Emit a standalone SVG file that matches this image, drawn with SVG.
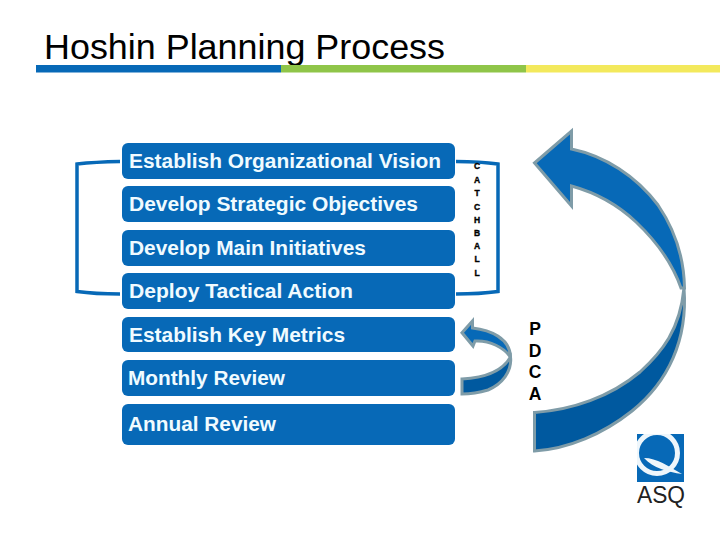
<svg xmlns="http://www.w3.org/2000/svg" width="720" height="540" viewBox="0 0 720 540">
<defs><clipPath id="sq"><rect x="637" y="434" width="47" height="48"/></clipPath></defs>
<style>
.box{fill:#0769b7}
.lbl{font-family:"Liberation Sans",Arial,sans-serif;font-weight:700;font-size:20px;fill:#f0fbff}
.side{font-family:"Liberation Sans",Arial,sans-serif;font-weight:700;fill:#000;text-anchor:middle}
.cb{font-size:8.500px;stroke:#000;stroke-width:.35}
.pd{font-size:17.500px}
.br{fill:none;stroke:#0769b7;stroke-width:3.500}
.ar{stroke:#7f9ca8;stroke-width:3;stroke-linejoin:miter}
</style>
<rect width="720" height="540" fill="#fff"/>
<g id="title">
<text x="44" y="59" font-family="'Liberation Sans',Arial,sans-serif" font-size="35" fill="#000" textLength="401" lengthAdjust="spacingAndGlyphs">Hoshin Planning Process</text>
<rect x="36" y="65" width="245" height="7.500" fill="#0769b7"/>
<rect x="281" y="65" width="245" height="7.500" fill="#8fc549"/>
<rect x="526" y="65" width="194" height="7.500" fill="#f3e95c"/>
</g>
<g id="connectors">
<path class="br" d="M120 161.500 Q95 162 77 164 V291.500 Q95 294 120 294"/>
<path class="br" d="M456 161.500 Q480 161.500 498 164 V291.500 Q480 294 456 294"/>
</g>
<g id="n1"><rect class="box" x="122" y="143" width="333" height="36" rx="6"/><text class="lbl" x="129" y="168" textLength="312" lengthAdjust="spacingAndGlyphs">Establish Organizational Vision</text></g>
<g id="n2"><rect class="box" x="122" y="186" width="333" height="36" rx="6"/><text class="lbl" x="129" y="211" textLength="289" lengthAdjust="spacingAndGlyphs">Develop Strategic Objectives</text></g>
<g id="n3"><rect class="box" x="122" y="230" width="333" height="36" rx="6"/><text class="lbl" x="129" y="255" textLength="237" lengthAdjust="spacingAndGlyphs">Develop Main Initiatives</text></g>
<g id="n4"><rect class="box" x="122" y="273" width="333" height="36" rx="6"/><text class="lbl" x="129" y="298" textLength="224" lengthAdjust="spacingAndGlyphs">Deploy Tactical Action</text></g>
<g id="n5"><rect class="box" x="122" y="317" width="333" height="35" rx="6"/><text class="lbl" x="129" y="342" textLength="216" lengthAdjust="spacingAndGlyphs">Establish Key Metrics</text></g>
<g id="n6"><rect class="box" x="122" y="360" width="333" height="36" rx="6"/><text class="lbl" x="128" y="385" textLength="157" lengthAdjust="spacingAndGlyphs">Monthly Review</text></g>
<g id="n7"><rect class="box" x="122" y="404" width="333" height="41" rx="6"/><text class="lbl" x="128" y="431" textLength="148" lengthAdjust="spacingAndGlyphs">Annual Review</text></g>
<g id="catchball">
<text class="side cb" x="477" y="169">C</text>
<text class="side cb" x="477" y="183">A</text>
<text class="side cb" x="477" y="196">T</text>
<text class="side cb" x="477" y="210">C</text>
<text class="side cb" x="477" y="223">H</text>
<text class="side cb" x="477" y="236">B</text>
<text class="side cb" x="477" y="249">A</text>
<text class="side cb" x="477" y="262">L</text>
<text class="side cb" x="477" y="276">L</text>
</g>
<g id="pdca">
<text class="side pd" x="535" y="335">P</text>
<text class="side pd" x="535" y="357">D</text>
<text class="side pd" x="535" y="378">C</text>
<text class="side pd" x="535" y="400">A</text>
</g>
<g id="big-arrow">
<path class="ar" fill="#00599f" d="M684 288 C688 340 668 382 632 411 C603 434 568 449 534.500 451 V412.500 C572 410 610 397 640 372 C662 352 680 330 684 288Z"/>
<path class="ar" fill="#0769b7" d="M534.500 163 L571.500 131 V149 C605 156 636 176 658 205 C675 230 684 258 684.500 288 L681 288 C672 262 655 240 636 222 C618 205 597 193 571.500 186 V206Z"/>
</g>
<g id="small-arrow">
<path class="ar" fill="#00599f" d="M510.500 357 C512 372 502 384 488 390 C478 393 470 394 462 394 V379 C482 378 502 372 510.500 357Z"/>
<path class="ar" fill="#0769b7" d="M462 332.700 L472.500 321 V328 C490 330 510 338 510.500 357 C504 348 490 340 475 341 L473 346Z"/>
</g>
<g id="logo">
<rect x="637" y="434" width="47" height="48" fill="#0769b7"/>
<circle cx="657" cy="453" r="20.500" fill="none" stroke="#eef6fb" stroke-width="5" clip-path="url(#sq)"/>
<path d="M644 458 C657 458 668 466 682 474 C668 472 653 468 644 458Z" fill="#eef6fb"/>
<text x="637" y="503" font-family="'Liberation Sans',Arial,sans-serif" font-size="24" textLength="48" lengthAdjust="spacingAndGlyphs" fill="#222">ASQ</text>
</g>
</svg>
